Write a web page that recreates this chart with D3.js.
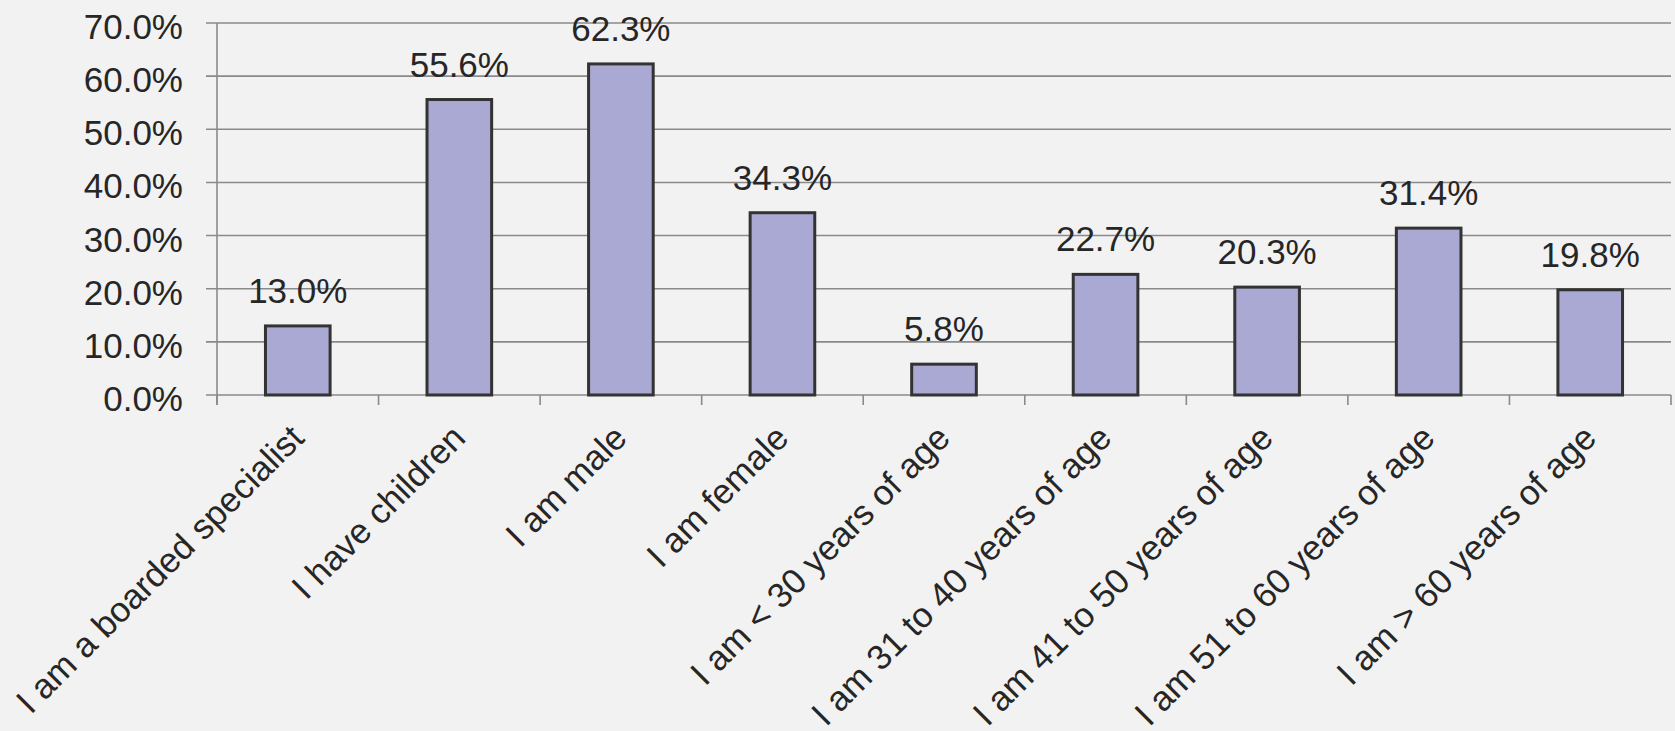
<!DOCTYPE html>
<html>
<head>
<meta charset="utf-8">
<script src="https://cdn.jsdelivr.net/npm/d3@7"></script>
<style>
  html, body { margin: 0; padding: 0; background: #f2f2f2; }
  svg { display: block; }
  text { font-family: "Liberation Sans", Arial, sans-serif; fill: #262626; }
</style>
</head>
<body>
<svg id="chart" width="1675" height="731"></svg>
<script>
const categories = [
  "I am a boarded specialist",
  "I have children",
  "I am male",
  "I am female",
  "I am < 30 years of age",
  "I am 31 to 40 years of age",
  "I am 41 to 50 years of age",
  "I am 51 to 60 years of age",
  "I am > 60 years of age"
];
const values = [13.0, 55.6, 62.3, 34.3, 5.8, 22.7, 20.3, 31.4, 19.8];
const yTicks = [0, 10, 20, 30, 40, 50, 60, 70];

const svg = d3.select("#chart");
const W = 1675, H = 731;
const margin = { left: 217, right: 4, top: 23, bottom: 336 };
const plotRight = W - margin.right;
const plotBottom = H - margin.bottom;

svg.append("rect").attr("width", W).attr("height", H).attr("fill", "#f2f2f2");

const x = d3.scaleBand()
  .domain(categories)
  .range([margin.left, plotRight])
  .paddingInner(0.6)
  .paddingOuter(0.3);

const y = d3.scaleLinear()
  .domain([0, 70])
  .range([plotBottom, margin.top]);

const gridColor = "#8a8a8a";
const fontSize = 35;

// gridlines (with left tick marks)
svg.append("g")
  .selectAll("line")
  .data(yTicks)
  .join("line")
  .attr("x1", margin.left - 11)
  .attr("x2", plotRight)
  .attr("y1", d => y(d))
  .attr("y2", d => y(d))
  .attr("stroke", gridColor)
  .attr("stroke-width", 1.6);

// y axis vertical line
svg.append("line")
  .attr("x1", margin.left).attr("x2", margin.left)
  .attr("y1", y(70)).attr("y2", plotBottom + 10)
  .attr("stroke", gridColor).attr("stroke-width", 1.6);

// x ticks at band boundaries
const step = x.step();
const boundaries = d3.range(categories.length + 1).map(i => margin.left + i * step);
svg.append("g")
  .selectAll("line")
  .data(boundaries)
  .join("line")
  .attr("x1", d => d).attr("x2", d => d)
  .attr("y1", plotBottom).attr("y2", plotBottom + 10)
  .attr("stroke", gridColor).attr("stroke-width", 1.6);

// y tick labels
svg.append("g")
  .selectAll("text")
  .data(yTicks)
  .join("text")
  .attr("x", margin.left - 34)
  .attr("y", d => y(d) + 16)
  .attr("text-anchor", "end")
  .attr("font-size", fontSize)
  .text(d => d.toFixed(1) + "%");

// bars
svg.append("g")
  .selectAll("rect")
  .data(values)
  .join("rect")
  .attr("x", (d, i) => x(categories[i]))
  .attr("y", d => y(d))
  .attr("width", x.bandwidth())
  .attr("height", d => plotBottom - y(d))
  .attr("fill", "#a9a9d3")
  .attr("stroke", "#333333")
  .attr("stroke-width", 3);

// value labels
svg.append("g")
  .selectAll("text")
  .data(values)
  .join("text")
  .attr("x", (d, i) => x(categories[i]) + x.bandwidth() / 2)
  .attr("y", d => y(d) - 23)
  .attr("text-anchor", "middle")
  .attr("font-size", fontSize)
  .text(d => d.toFixed(1) + "%");

// category labels rotated
svg.append("g")
  .selectAll("text")
  .data(categories)
  .join("text")
  .attr("text-anchor", "end")
  .attr("font-size", fontSize)
  .attr("transform", d => `translate(${x(d) + x.bandwidth() / 2 + 8},${plotBottom + 45}) rotate(-45)`)
  .text(d => d);
</script>
</body>
</html>
